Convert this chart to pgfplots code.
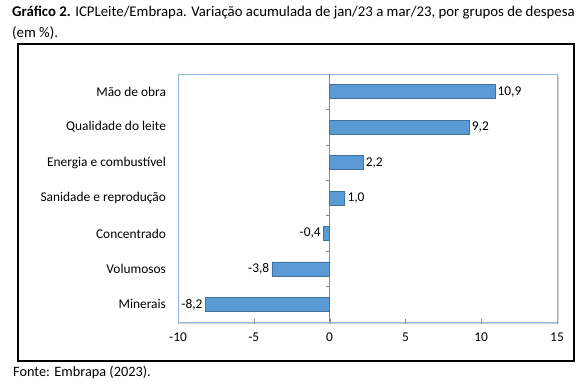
\documentclass[border=0pt]{standalone}
\usepackage{fontspec}
\setmainfont{Carlito}
\usepackage{pgfplots}
\pgfplotsset{compat=1.18}
\definecolor{barfill}{HTML}{5B9BD5}
\definecolor{barline}{HTML}{41719C}
\definecolor{frameblue}{HTML}{8DB4E2}
\definecolor{axgray}{HTML}{868686}
\begin{document}
\begin{tikzpicture}[x=1pt,y=1pt]
\useasboundingbox (0,0) rectangle (584,388);
\node[anchor=west, inner sep=0pt, font=\fontsize{14.8}{17}\selectfont] at (12,375) {\textbf{Gráfico 2.} ICPLeite/Embrapa. Variação acumulada de jan/23 a mar/23, por grupos de despesa};
\node[anchor=west, inner sep=0pt, font=\fontsize{14.8}{17}\selectfont] at (12,355) {(em \%).};
\fill[gray!35] (180,64) rectangle (559,312);
\draw[line width=2.2pt] (18,344) rectangle (574,27);
\node[anchor=west, inner sep=0pt, font=\fontsize{14.3}{17}\selectfont] at (13,16) {Fonte: Embrapa (2023).};
\begin{axis}[
  at={(178pt,66pt)}, anchor=south west,
  scale only axis, width=379pt, height=248pt,
  axis background/.style={fill=white},
  xbar, bar width=14pt, bar shift=0pt,
  xmin=-10, xmax=15, ymin=-0.5, ymax=6.5,
  xtick={-10,-5,0,5,10,15},
  xticklabels={-10,-5,0,5,10,15},
  ytick={0,1,2,3,4,5,6},
  yticklabels={Minerais,Volumosos,Concentrado,Sanidade e reprodução,Energia e combustível,Qualidade do leite,Mão de obra},
  axis line style={frameblue, line width=0.8pt},
  xtick pos=bottom, ytick style={draw=none},
  xtick style={axgray}, tick align=center, major tick length=5pt,
  tick label style={font=\fontsize{13.4}{15}\selectfont},
  yticklabel style={xshift=-6pt},
  xticklabel style={yshift=-5pt},
  nodes near coords, nodes near coords align=horizontal,
  every node near coord/.append style={font=\fontsize{13.4}{15}\selectfont, inner sep=2.5pt},
  /pgf/number format/.cd, fixed, precision=1, fixed zerofill, use comma, assume math mode=true,
]
\draw[axgray, line width=0.8pt] (axis cs:-10,-0.5) -- (axis cs:15,-0.5);
\draw[axgray, line width=0.8pt] (axis cs:0,-0.5) -- (axis cs:0,6.5);
\foreach \yy in {0.5,1.5,2.5,3.5,4.5,5.5} {
  \edef\tmp{\noexpand\draw[axgray, line width=0.6pt] (axis cs:0,\yy) -- ++(-4pt,0pt);}\tmp
}
\addplot[fill=barfill, draw=barline, line width=0.6pt] coordinates {
(-8.2,0) (-3.8,1) (-0.4,2) (1.0,3) (2.2,4) (9.2,5) (10.9,6)
};
\end{axis}
\end{tikzpicture}
\end{document}
